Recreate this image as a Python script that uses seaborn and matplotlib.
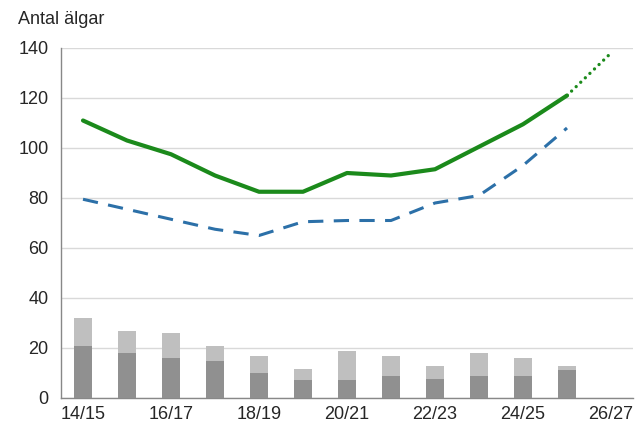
import numpy as np
import pandas as pd
import matplotlib
matplotlib.use('Agg')
import matplotlib.pyplot as plt
import seaborn as sns

# Data
seasons = ['14/15', '15/16', '16/17', '17/18', '18/19', '19/20', '20/21',
           '21/22', '22/23', '23/24', '24/25', '25/26', '26/27']
green_line = [111, 103, 97.5, 89, 82.5, 82.5, 90, 89, 91.5, 100.5, 109.5, 121, np.nan]
green_forecast = [np.nan] * 11 + [121, 138]
blue_dashed = [79.5, 75.5, 71.5, 67.5, 65, 70.5, 71, 71, 78, 81, 93, 108, np.nan]
bar_dark = [20.7, 18, 16, 15, 10, 7.2, 7.2, 8.8, 7.7, 8.8, 8.8, 11.3, 0]
bar_total = [32, 27, 26, 20.7, 16.8, 11.6, 19, 16.8, 12.8, 18, 16.2, 12.8, 0]
label_seasons = ['14/15', '16/17', '18/19', '20/21', '22/23', '24/25', '26/27']

sns.set_style('white')
plt.rcParams['font.family'] = ['Liberation Sans', 'DejaVu Sans']

df = pd.DataFrame({'season': seasons, 'x': np.arange(len(seasons)),
                   'green': green_line, 'forecast': green_forecast,
                   'blue': blue_dashed, 'dark': bar_dark, 'total': bar_total})

fig = plt.figure(figsize=(6.43, 4.30), dpi=100)
ax = fig.add_axes([61 / 643, 32 / 430, 572 / 643, 350 / 430])

# stacked bars: total (light) first, dark part on top of it
sns.barplot(data=df, x='season', y='total', color='#bfbfbf', saturation=1,
            width=0.41, linewidth=0, ax=ax, zorder=2)
sns.barplot(data=df, x='season', y='dark', color='#909090', saturation=1,
            width=0.41, linewidth=0, ax=ax, zorder=3)

sns.lineplot(data=df, x='x', y='green', color='#1b8a1b', lw=3, ax=ax, zorder=4)
sns.lineplot(data=df, x='x', y='forecast', color='#1b8a1b', lw=2.4, ax=ax, zorder=4)
ax.lines[-1].set_linestyle((0, (0.01, 1.9)))
ax.lines[-1].set_dash_capstyle('round')
sns.lineplot(data=df, x='x', y='blue', color='#2c70a8', lw=2.2, ax=ax, zorder=4)
ax.lines[-1].set_linestyle((0, (5, 3.4)))

ax.set_xlim(-0.5, len(seasons) - 0.5)
ax.set_ylim(0, 140)
ax.set_yticks(range(0, 141, 20))
ax.yaxis.grid(True, color='#d9d9d9', lw=1)
ax.set_axisbelow(True)

# ticks between categories, labels on every other category
ax.set_xticks(np.arange(-0.5, len(seasons), 1))
ax.set_xticklabels([])
ax.set_xticks([seasons.index(s) for s in label_seasons], minor=True)
ax.set_xticklabels(label_seasons, minor=True)
ax.tick_params(axis='x', which='major', length=5, color='#888888', direction='out')
ax.tick_params(axis='x', which='minor', length=0, pad=6, labelsize=13)
ax.tick_params(axis='y', length=5, color='#888888', direction='out', labelsize=13, pad=4)

for s in ['top', 'right']:
    ax.spines[s].set_visible(False)
for s in ['left', 'bottom']:
    ax.spines[s].set_color('#888888')
    ax.spines[s].set_linewidth(1)

ax.set_xlabel('')
ax.set_ylabel('')
fig.text(18 / 643, 1 - 20 / 430, 'Antal älgar', fontsize=13, va='center', ha='left')

fig.savefig('out.png', dpi=100)
